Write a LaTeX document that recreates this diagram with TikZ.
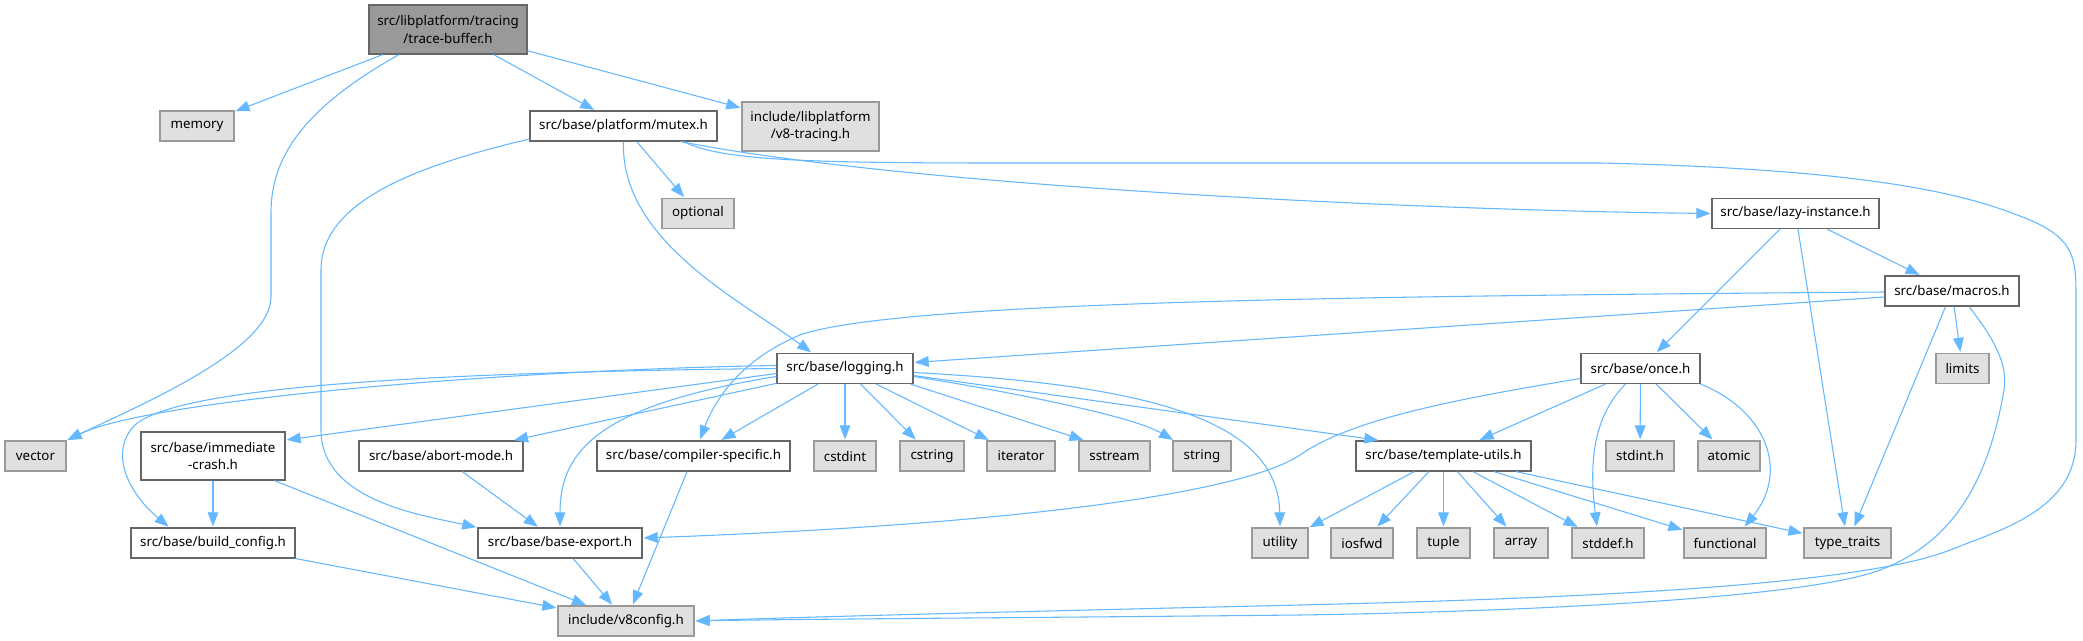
\documentclass[tikz,border=0pt]{standalone}
\usepackage{fontspec}
\setmainfont{Noto Sans}
\usetikzlibrary{arrows.meta,calc}
\definecolor{edgec}{HTML}{63B8FF}
\definecolor{sysfill}{HTML}{E0E0E0}
\definecolor{sysdraw}{HTML}{999999}
\definecolor{filedraw}{HTML}{666666}
\definecolor{mainfill}{HTML}{999999}
\newcommand\mkbox[6]{\node[#1, minimum width=#4*0.75pt, minimum height=#5*0.75pt] (#2) at (#3) {#6};}
\begin{document}
\begin{tikzpicture}[x=0.75pt,y=-0.75pt,
 every node/.style={inner sep=0pt, font=\fontsize{10}{13}\selectfont, align=center},
 filebox/.style={draw=filedraw, fill=white, line width=0.9pt},
 sysbox/.style={draw=sysdraw, fill=sysfill, line width=0.9pt},
 mainbox/.style={draw=filedraw, fill=mainfill, line width=0.9pt},
 dep/.style={draw=edgec, line width=0.8pt, shorten >=0.8pt, -{Triangle[length=10.5pt,width=8pt]}}]
\fill[white] (0,0) rectangle (2083,641);
\useasboundingbox (0,0) rectangle (2083,641);
% nodes
\mkbox{mainbox}{tb}{448,29.5}{158}{49}{src/libplatform/tracing\\/trace-buffer.h}
\mkbox{sysbox}{memory}{197,126}{74}{30}{memory}
\mkbox{filebox}{mutex}{623.5,126}{187}{30}{src/base/platform/mutex.h}
\mkbox{sysbox}{v8tracing}{810.5,126.5}{137}{49}{include/libplatform\\/v8-tracing.h}
\mkbox{sysbox}{optional}{698,213.5}{72}{30}{optional}
\mkbox{filebox}{lazy}{1795.5,213.5}{167}{30}{src/base/lazy-instance.h}
\mkbox{filebox}{macros}{1952,291}{134}{30}{src/base/macros.h}
\mkbox{sysbox}{limits}{1962.5,368.5}{53}{30}{limits}
\mkbox{filebox}{logging}{845,368.5}{136}{30}{src/base/logging.h}
\mkbox{filebox}{once}{1640.5,368.5}{119}{30}{src/base/once.h}
\mkbox{sysbox}{vector}{35.5,456}{61}{30}{vector}
\mkbox{filebox}{immcrash}{213,456}{144}{48}{src/base/immediate\\-crash.h}
\mkbox{filebox}{abort}{441,456}{164}{30}{src/base/abort-mode.h}
\mkbox{filebox}{compiler}{693.5,456}{193}{30}{src/base/compiler-specific.h}
\mkbox{sysbox}{cstdint}{845,456}{62}{30}{cstdint}
\mkbox{sysbox}{cstring}{932,456}{64}{30}{cstring}
\mkbox{sysbox}{iterator}{1021,456}{68}{30}{iterator}
\mkbox{sysbox}{sstream}{1114.5,456}{71}{30}{sstream}
\mkbox{sysbox}{string}{1202,456}{58}{30}{string}
\mkbox{filebox}{templ}{1443.5,456}{175}{30}{src/base/template-utils.h}
\mkbox{sysbox}{stdinth}{1640,456}{68}{30}{stdint.h}
\mkbox{sysbox}{atomic}{1729,456}{62}{30}{atomic}
\mkbox{filebox}{buildcfg}{213,543}{164}{30}{src/base/build\_config.h}
\mkbox{filebox}{baseexp}{560,543}{164}{30}{src/base/base-export.h}
\mkbox{sysbox}{utility}{1280,543}{56}{30}{utility}
\mkbox{sysbox}{iosfwd}{1362,543}{62}{30}{iosfwd}
\mkbox{sysbox}{tuple}{1443.5,543}{53}{30}{tuple}
\mkbox{sysbox}{array}{1521,543}{54}{30}{array}
\mkbox{sysbox}{stddef}{1608,543}{72}{30}{stddef.h}
\mkbox{sysbox}{functional}{1725,543}{82}{30}{functional}
\mkbox{sysbox}{typetraits}{1847.5,543}{87}{30}{type\_traits}
\mkbox{sysbox}{v8config}{626,621}{136}{30}{include/v8config.h}
% edges from trace-buffer
\draw[dep] (tb) -- (memory);
\draw[dep] ($(tb.south)+(-49,0)$) .. controls (300,110) and (271,160) .. (271,213) -- (271,297) .. controls (271,350) and (140,405) .. (vector.north east);
\draw[dep] (tb) -- (mutex);
\draw[dep] (tb) -- (v8tracing);
% mutex
\draw[dep] (mutex) -- (optional);
\draw[dep] ($(mutex.south east)+(-37,0)$) .. controls (900,185) and (1400,210) .. (lazy.west);
\draw[dep] ($(mutex.south east)+(-34,0)$) .. controls (720,160) and (800,163) .. (1000,163) -- (1600,163) .. controls (1900,170) and (1980,200) .. (2030,220) .. controls (2076,240) and (2076,260) .. (2076,300) -- (2076,440) .. controls (2076,510) and (2000,530) .. (1950,550) .. controls (1850,590) and (1500,600) .. (1300,605) .. controls (1000,612) and (800,617) .. (v8config.east);
\draw[dep] ($(mutex.west)+(0,13)$) .. controls (420,165) and (321,200) .. (321,270) -- (321,430) .. controls (321,500) and (420,515) .. (baseexp.north west);
\draw[dep] (mutex.south) .. controls (620,240) and (740,300) .. ($(logging.north)+(-33,0)$);
% lazy-instance
\draw[dep] (lazy) -- (once);
\draw[dep] (lazy) -- (typetraits);
\draw[dep] (lazy) -- (macros);
% macros
\draw[dep] (macros) -- (limits);
\draw[dep] (macros) -- (typetraits);
\draw[dep] ($(macros.south)+(17,0)$) .. controls (1995,340) and (2008,365) .. (2004,390) .. controls (1990,470) and (1960,540) .. (1880,570) .. controls (1800,600) and (1500,612) .. (1300,615) .. controls (1000,618) and (800,619) .. (v8config.east);
\draw[dep] ($(macros.west)+(0,6)$) -- ($(logging.east)+(0,-6)$);
\draw[dep] ($(macros.west)+(0,1)$) .. controls (1400,296) and (900,300) .. (800,335) .. controls (740,360) and (715,400) .. ($(compiler.north)+(6,0)$);
% logging
\draw[dep] ($(logging.west)+(0,-3)$) .. controls (500,370) and (150,400) .. (vector.north east);
\draw[dep] (logging.west) .. controls (450,372) and (180,385) .. (135,425) .. controls (110,450) and (125,490) .. ($(buildcfg.north west)+(39,0)$);
\draw[dep] ($(logging.west)+(0,5)$) -- ($(immcrash.east)+(0,-16)$);
\draw[dep] (logging) -- (abort);
\draw[dep] ($(logging.west)+(0,8)$) .. controls (600,405) and (560,450) .. (baseexp.north);
\draw[dep] (logging) -- (compiler);
\draw[dep] (logging) -- (cstdint);
\draw[dep] (logging) -- (cstring);
\draw[dep] (logging) -- (iterator);
\draw[dep] ($(logging.south east)+(-3,0)$) -- ($(sstream.north)+(-30,0)$);
\draw[dep] ($(logging.east)+(0,8)$) .. controls (1000,390) and (1130,415) .. ($(string.north)+(-28,0)$);
\draw[dep] ($(logging.east)+(0,4)$) .. controls (1150,385) and (1278,420) .. (utility.north);
\draw[dep] ($(logging.east)+(0,7)$) -- ($(templ.north west)+(24,0)$);
% once
\draw[dep] (once) -- (templ);
\draw[dep] ($(once.south)+(-15,0)$) .. controls (1590,420) and (1590,470) .. ($(stddef.north)+(-11,0)$);
\draw[dep] (once) -- (stdinth);
\draw[dep] (once) -- (atomic);
\draw[dep] (once.south east) .. controls (1765,410) and (1790,470) .. ($(functional.north)+(19,0)$);
\draw[dep] ($(once.west)+(0,10)$) .. controls (1450,400) and (1350,420) .. (1300,455) .. controls (1240,495) and (1000,525) .. ($(baseexp.east)+(0,-5)$);
% template-utils
\draw[dep] (templ) -- (utility);
\draw[dep] (templ) -- (iosfwd);
\draw[dep] (templ) -- (tuple);
\draw[dep] (templ) -- (array);
\draw[dep] (templ) -- (stddef);
\draw[dep] (templ) -- (functional);
\draw[dep] (templ) -- (typetraits);
% lower files
\draw[dep] (immcrash) -- (buildcfg);
\draw[dep] (immcrash) -- (v8config);
\draw[dep] (abort) -- (baseexp);
\draw[dep] (compiler) -- (v8config);
\draw[dep] (buildcfg) -- (v8config);
\draw[dep] (baseexp) -- (v8config);
\end{tikzpicture}
\end{document}
